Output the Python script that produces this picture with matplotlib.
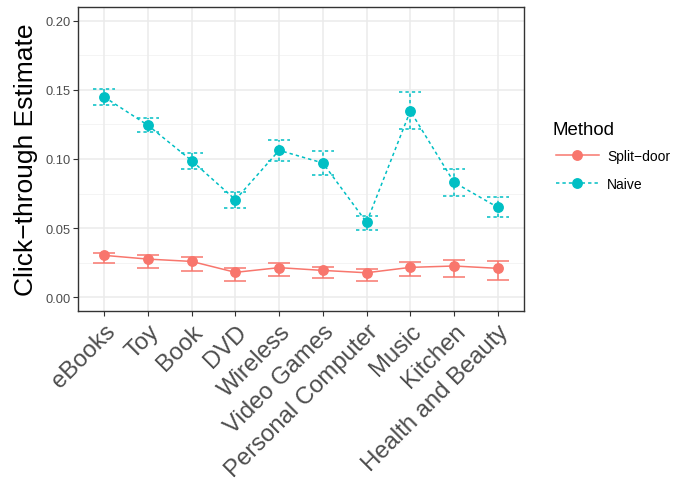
import matplotlib
matplotlib.use("Agg")
import matplotlib.pyplot as plt
from matplotlib.lines import Line2D
import numpy as np

categories = ["eBooks", "Toy", "Book", "DVD", "Wireless", "Video Games",
              "Personal Computer", "Music", "Kitchen", "Health and Beauty"]
split_est = [0.0302, 0.0275, 0.0258, 0.0179, 0.0213, 0.0193, 0.0176, 0.0215, 0.0225, 0.0208]
split_lo  = [0.0244, 0.0208, 0.0186, 0.0118, 0.0155, 0.0138, 0.0118, 0.0150, 0.0147, 0.0123]
split_hi  = [0.0321, 0.0304, 0.0290, 0.0208, 0.0244, 0.0220, 0.0203, 0.0251, 0.0270, 0.0261]
naive_est = [0.1449, 0.1244, 0.0988, 0.0705, 0.1063, 0.0971, 0.0541, 0.1348, 0.0831, 0.0650]
naive_lo  = [0.1391, 0.1193, 0.0930, 0.0643, 0.0988, 0.0887, 0.0488, 0.1215, 0.0734, 0.0582]
naive_hi  = [0.1507, 0.1295, 0.1046, 0.0763, 0.1135, 0.1058, 0.0590, 0.1483, 0.0928, 0.0722]
yticks = [0.00, 0.05, 0.10, 0.15, 0.20]

RED = "#F8766D"
CYAN = "#00BFC4"
FONT = ["Liberation Sans", "DejaVu Sans"]
plt.rcParams["font.family"] = FONT

W, H = 674, 485
fig = plt.figure(figsize=(W / 100, H / 100), dpi=100)
ax = fig.add_axes([78 / W, 1 - 312 / H, (524 - 78) / W, (312 - 8) / H])

x = np.arange(len(categories))
ax.set_xlim(-0.6, len(categories) - 0.4)
ax.set_ylim(-0.0101, 0.2101)

# grid
ax.set_axisbelow(True)
for yv in yticks:
    ax.axhline(yv, color="#EBEBEB", lw=1.1, zorder=0)
for yv in np.array(yticks[:-1]) + 0.025:
    ax.axhline(yv, color="#F2F2F2", lw=0.6, zorder=0)
for xv in x:
    ax.axvline(xv, color="#EBEBEB", lw=1.1, zorder=0)

cap = 0.25
DASH = (2.2, 2.0)
series = [
    (split_est, split_lo, split_hi, RED, None),
    (naive_est, naive_lo, naive_hi, CYAN, DASH),
]
for est, lo, hi, col, dash in series:
    kw = dict(color=col, lw=1.1, zorder=3)
    if dash:
        kw["linestyles"] = [(0, dash)]
    ax.vlines(x, lo, hi, **kw)
    ax.hlines(lo, x - cap, x + cap, **kw)
    ax.hlines(hi, x - cap, x + cap, **kw)
    line, = ax.plot(x, est, color=col, lw=1.1, zorder=4)
    if dash:
        line.set_dashes(dash)
    ax.plot(x, est, "o", color=col, ms=6.8, zorder=5, lw=0)

ax.set_yticks(yticks)
ax.set_yticklabels([f"{v:.2f}" for v in yticks], fontsize=9.3, color="#4D4D4D")
ax.set_xticks(x)
ax.set_xticklabels(categories, rotation=45, ha="right", rotation_mode="anchor",
                   fontsize=17.2, color="#4D4D4D")
ax.tick_params(axis="both", length=3.6, width=0.8, color="#333333")
ax.tick_params(axis="y", pad=1.8)
ax.tick_params(axis="x", pad=3)
for s in ax.spines.values():
    s.set_color("#333333")
    s.set_linewidth(1.0)

ax.set_ylabel("Click\u2212through Estimate", fontsize=19, labelpad=5)

handles = [
    Line2D([0], [0], color=RED, lw=1.1, marker="o", ms=6.8, label="Split\u2212door"),
    Line2D([0], [0], color=CYAN, lw=1.1, ls=(0, DASH), marker="o", ms=6.8, label="Naive"),
]
fig.text(552 / W, 1 - 131 / H, "Method", fontsize=13.4, ha="left", va="center")
leg = fig.legend(handles=handles, loc="upper left",
                 bbox_to_anchor=(543 / W, 1 - 137 / H), frameon=False,
                 fontsize=10, handlelength=3.1,
                 labelspacing=1.05, handletextpad=0.6)

fig.savefig("out.png", dpi=100)
